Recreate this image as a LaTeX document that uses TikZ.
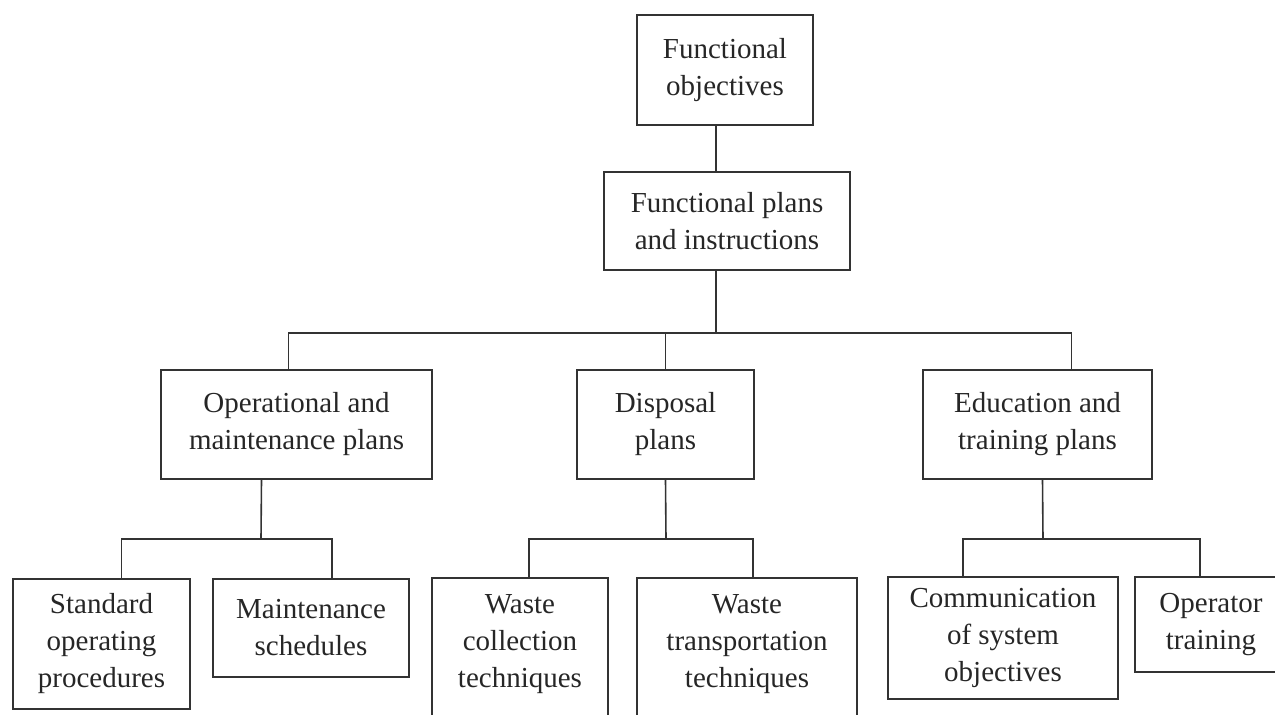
\documentclass[tikz,border=0pt]{standalone}
\usepackage{fontspec}
\setmainfont{Liberation Serif}
\begin{document}
\begin{tikzpicture}[x=1pt,y=-1pt,
    box/.style={draw=black!80,line width=1.6pt,rectangle,align=center,inner xsep=4pt,
        font=\fontsize{29}{37}\selectfont,text=black!85},
    openbox/.style={box,anchor=north,inner ysep=17pt,text depth=150pt},
    link/.style={draw=black!80,line width=1.6pt}]
\useasboundingbox (0,0) rectangle (1275,715);
% top levels
\node[box,minimum width=176,minimum height=110] (fobj) at (725,70) {Functional\\objectives};
\node[box,minimum width=246,minimum height=98] (fplans) at (727,221) {Functional plans\\and instructions};
% plans
\node[box,minimum width=271,minimum height=109] (opplan) at (296.5,424.5) {Operational and\\maintenance plans};
\node[box,minimum width=177,minimum height=109] (displan) at (665.5,424.5) {Disposal\\plans};
\node[box,minimum width=229,minimum height=109] (eduplan) at (1037.5,424.5) {Education and\\training plans};
% bottom row
\node[box,minimum width=177,minimum height=130] (sop) at (101.5,644) {Standard\\operating\\procedures};
\node[box,minimum width=196,minimum height=98] (msched) at (311,628) {Maintenance\\schedules};
\node[openbox,minimum width=176] (wcoll) at (520,577) {Waste\\collection\\techniques};
\node[openbox,minimum width=220] (wtrans) at (747,577) {Waste\\transportation\\techniques};
\node[box,minimum width=230,minimum height=122] (comm) at (1003,638) {Communication\\of system\\objectives};
\node[box,minimum width=152,minimum height=95] (optrain) at (1211,624.5) {Operator\\training};
% bus coordinates
\coordinate (bus) at (716,333);
\coordinate (opbus) at (261,539);
\coordinate (disbus) at (666,539);
\coordinate (edubus) at (1043,539);
% connectors
\draw[link] ([xshift=-9]fobj.south) -- ([xshift=-11]fplans.north);
\draw[link] ([xshift=-11]fplans.south) -- (bus);
\draw[link] ([xshift=-8]opplan.north) |- (bus) -| ([xshift=34]eduplan.north);
\draw[link] (displan.north) -- (displan.north |- bus);
\draw[link] ([xshift=-35]opplan.south) -- (opbus);
\draw[link] ([xshift=20]sop.north) |- (opbus) -| ([xshift=21]msched.north);
\draw[link] (displan.south) -- (disbus);
\draw[link] ([xshift=9]wcoll.north) |- (disbus) -| ([xshift=6]wtrans.north);
\draw[link] ([xshift=5]eduplan.south) -- (edubus);
\draw[link] ([xshift=-40]comm.north) |- (edubus) -| ([xshift=-11]optrain.north);
\end{tikzpicture}
\end{document}
